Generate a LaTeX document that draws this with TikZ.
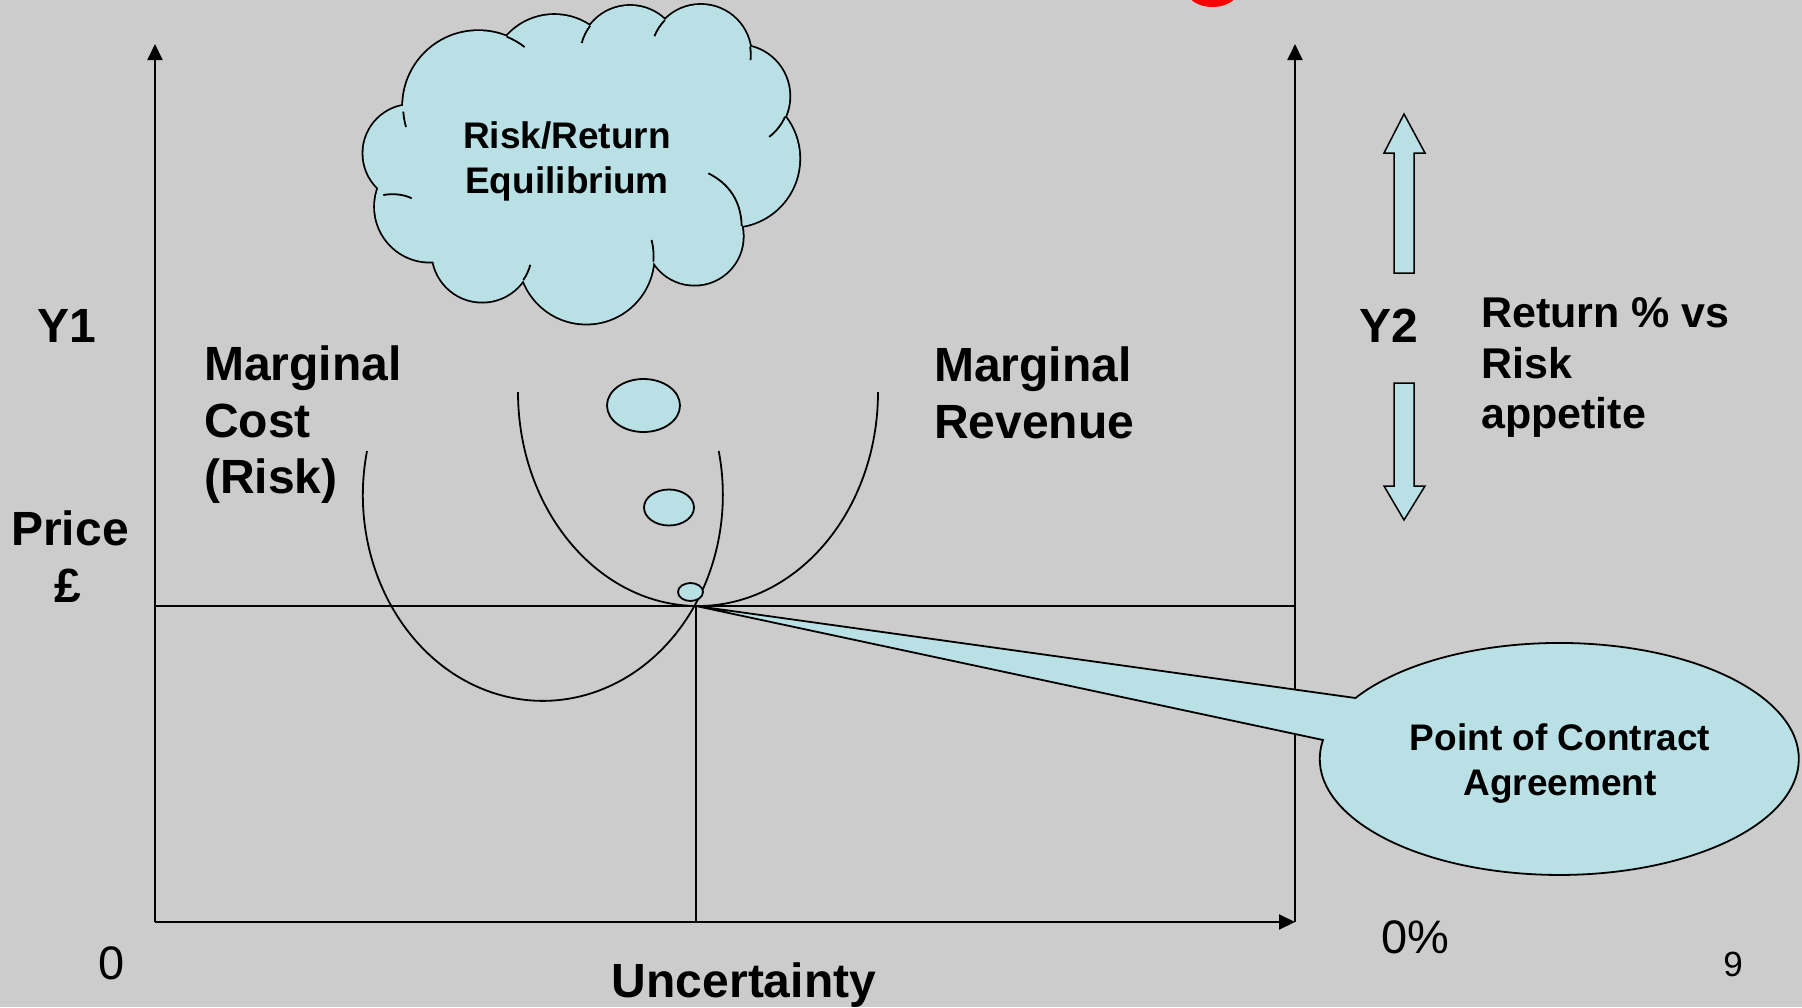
\documentclass[tikz,border=0pt]{standalone}
\usepackage{fontspec}
\setmainfont{Liberation Sans}
\usetikzlibrary{arrows.meta}
\definecolor{bg}{RGB}{204,204,204}
\definecolor{aqua}{RGB}{185,224,228}
\tikzset{
  axisline/.style={line width=2pt,-{Triangle[length=16pt,width=15pt]}},
  plainline/.style={line width=2pt},
  curveline/.style={line width=1.8pt},
  shapefill/.style={fill=aqua,draw=black,line width=1.8pt},
  big/.style={inner sep=0pt,anchor=base west,font=\fontsize{48}{57}\selectfont\bfseries},
  mid/.style={inner sep=0pt,anchor=base west,font=\fontsize{43}{51}\selectfont\bfseries},
  cloudtxt/.style={inner sep=0pt,anchor=base,font=\fontsize{37}{44}\selectfont\bfseries},
  calltxt/.style={inner sep=0pt,anchor=base,font=\fontsize{37}{45}\selectfont\bfseries},
  plaintxt/.style={inner sep=0pt,font=\fontsize{47}{56}\selectfont},
}
\begin{document}
\begin{tikzpicture}[x=1pt,y=1pt]
\useasboundingbox (0,0) rectangle (1802,-1007);
\fill[bg] (0,0) rectangle (1802,-1007);
% red blob at top edge
\begin{scope}
\clip (0,0) rectangle (1802,-1007);
\fill[red] (1212.5,10) ellipse[x radius=26,y radius=17];
\end{scope}
% axes
\coordinate (O) at (155,-922);
\coordinate (Ytop) at (155,-44);
\coordinate (Xend) at (1295,-922);
\coordinate (Y2top) at (1295,-44);
\coordinate (PL) at (155,-606);
\coordinate (PR) at (1295,-606);
\coordinate (P) at (696,-606);
\coordinate (Pb) at (696,-922);
\draw[axisline] (O) -- (Ytop);
\draw[axisline] (O) -- (Xend);
\draw[axisline] (Xend) -- (Y2top);
\draw[plainline] (PL) -- (PR);
\draw[plainline] (P) -- (Pb);
% curves
\draw[curveline] (367,-451) arc[start angle=167.7,end angle=372.3,x radius=180,y radius=206];
\draw[curveline] (518,-392) arc[start angle=180,end angle=360,x radius=180,y radius=214];
% callout
\coordinate (T1) at (1355.5,-698);
\coordinate (T2) at (1323,-740);
\filldraw[shapefill] (T1) -- (P) -- (T2) arc[start angle=170.6,end angle=508.3,x radius=239.5,y radius=116] -- cycle;
\node[calltxt] (pc1) at (1560,-750) {Point of Contract};
\node[calltxt] (pc2) at (1560,-795) {Agreement};
% thought bubbles
\filldraw[shapefill] (643.5,-405.5) ellipse[x radius=36.5,y radius=26.5];
\filldraw[shapefill] (669,-507.5) ellipse[x radius=25,y radius=18];
\filldraw[shapefill] (690.5,-592) ellipse[x radius=12.5,y radius=9];
% cloud
\def\cloudpath{(411.7,-153.3) circle[radius=48.3]
 (478.3,-106.3) circle[radius=75.2]
 (554.3,-78.2) circle[radius=63.2]
 (630.1,-56) circle[radius=50.1]
 (700.8,-54.9) circle[radius=50]
 (738.5,-96.2) circle[radius=50.9]
 (731,-158.6) circle[radius=68.3]
 (694.5,-236.4) circle[radius=48.3]
 (586.3,-256.3) circle[radius=67.3]
 (482.2,-251.9) circle[radius=49.8]
 (430,-206.7) circle[radius=55]}
\filldraw[fill=aqua,draw=black,line width=3.6pt] \cloudpath;
\fill[aqua] \cloudpath (580,-160) ellipse[x radius=150,y radius=90];
\begin{scope}[line width=1.8pt]
\draw (478.3,-106.3) ++(184:75.2) arc[start angle=184,end angle=196,radius=75.2];
\draw (478.3,-106.3) ++(67.8:75.2) arc[start angle=67.8,end angle=52,radius=75.2];
\draw (630.1,-56) ++(143:50.1) arc[start angle=143,end angle=165,radius=50.1];
\draw (700.8,-54.9) ++(136:50) arc[start angle=136,end angle=158,radius=50];
\draw (700.8,-54.9) ++(9.5:50) arc[start angle=9.5,end angle=-6,radius=50];
\draw (738.5,-96.2) ++(-23.8:50.9) arc[start angle=-23.8,end angle=-53,radius=50.9];
\draw (741.7,-226) .. controls (741,-200) and (728,-183) .. (708.3,-173.3);
\draw (586.3,-256.3) ++(-4.6:67.3) arc[start angle=-4.6,end angle=14,radius=67.3];
\draw (482.2,-251.9) ++(-34.4:49.8) arc[start angle=-34.4,end angle=-15,radius=49.8];
\draw (383.3,-195) .. controls (395,-193) and (405,-195) .. (411.7,-198.3);
\end{scope}
\node[cloudtxt] (c1) at (567,-148) {Risk/Return};
\node[cloudtxt] (c2) at (567,-193) {Equilibrium};
% up/down block arrows
\filldraw[shapefill,line width=1.5pt] (1404,-114) -- (1425,-153) -- (1414,-153) -- (1414,-273) -- (1394,-273) -- (1394,-153) -- (1384,-153) -- cycle;
\filldraw[shapefill,line width=1.5pt] (1404,-520) -- (1425,-486) -- (1414,-486) -- (1414,-383) -- (1394,-383) -- (1394,-486) -- (1384,-486) -- cycle;
% labels
\node[big] (y1) at (37,-342) {Y1};
\node[big,anchor=base] (pr1) at (70,-545) {Price};
\node[big,anchor=base] (pr2) at (68,-602) {£};
\node[big] (mc1) at (204,-380) {Marginal};
\node[big] (mc2) at (204,-437) {Cost};
\node[big] (mc3) at (204,-493) {(Risk)};
\node[big] (mr1) at (934,-381) {Marginal};
\node[big] (mr2) at (934,-438) {Revenue};
\node[big] (y2) at (1359,-342) {Y2};
\node[mid] (rr1) at (1481,-327) {Return \% vs};
\node[mid] (rr2) at (1481,-378) {Risk};
\node[mid] (rr3) at (1481,-428) {appetite};
\node[plaintxt,anchor=base] (zero) at (112,-979) {0};
\node[big,anchor=base] (unc) at (744,-997) {Uncertainty};
\node[plaintxt,anchor=base west] (zpc) at (1381,-953) {0\%};
\node[inner sep=0pt,anchor=base,font=\fontsize{35}{42}\selectfont] (pg) at (1733,-976) {9};
\end{tikzpicture}
\end{document}
